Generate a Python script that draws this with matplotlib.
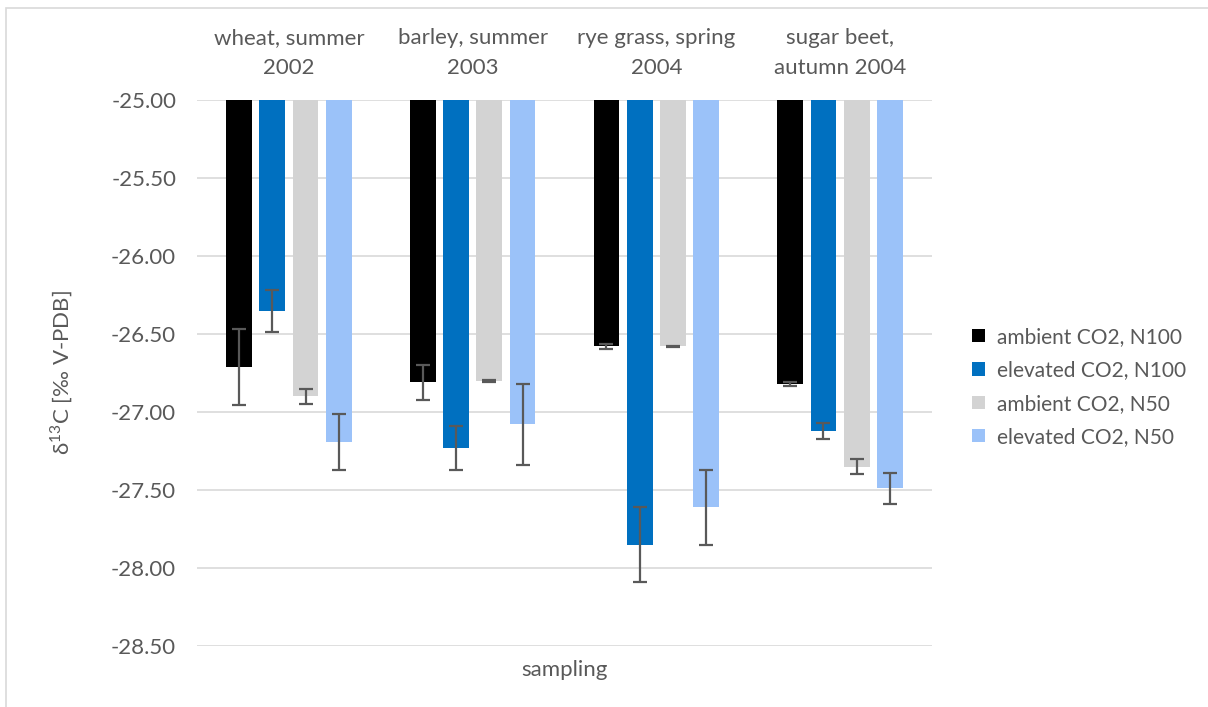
import matplotlib
matplotlib.use("Agg")
import matplotlib.pyplot as plt
import matplotlib.patches as patches
import numpy as np

plt.rcParams["font.family"] = ["Lato", "DejaVu Sans"]

# sampling campaigns and treatments
samplings = ["wheat, summer\n2002", "barley, summer\n2003",
             "rye grass, spring\n2004", "sugar beet,\nautumn 2004"]
treatments = ["ambient CO2, N100", "elevated CO2, N100",
              "ambient CO2, N50", "elevated CO2, N50"]

# mean delta 13C per treatment, one value per sampling
amb_n100 = [-26.71, -26.81, -26.58, -26.82]
elev_n100 = [-26.355, -27.23, -27.85, -27.12]
amb_n50 = [-26.90, -26.80, -26.58, -27.35]
elev_n50 = [-27.19, -27.08, -27.61, -27.49]

# standard errors
amb_n100_err = [0.245, 0.113, 0.018, 0.013]
elev_n100_err = [0.135, 0.143, 0.24, 0.05]
amb_n50_err = [0.048, 0.005, 0.005, 0.05]
elev_n50_err = [0.18, 0.257, 0.24, 0.10]

colors = ["#000000", "#0070C0", "#D3D3D3", "#9BC2F9"]
text_col = "#595959"
baseline = -25.0
fs = 16

fig = plt.figure(figsize=(12.08, 7.07), dpi=100)
ax = fig.add_axes([197 / 1208, 1 - 646 / 707, 735 / 1208, 546 / 707])

series = [amb_n100, elev_n100, amb_n50, elev_n50]
errors = [amb_n100_err, elev_n100_err, amb_n50_err, elev_n50_err]
x = np.arange(len(samplings))
step = 0.181
width = 0.139
handles = []
for k, (vals, errs) in enumerate(zip(series, errors)):
    vals = np.array(vals)
    pos = x + (k - 1.5) * step
    b = ax.bar(pos, vals - baseline, bottom=baseline, width=width,
               color=colors[k], label=treatments[k], zorder=2)
    ax.errorbar(pos, vals, yerr=errs, fmt="none", ecolor=text_col,
                elinewidth=1.6, capsize=5, capthick=1.6, zorder=3)
    handles.append(b)

ax.set_xlim(-0.5, 3.5)
ax.set_ylim(-28.5, -25.0)
ax.set_yticks(np.arange(-28.5, -24.99, 0.5))
ax.yaxis.set_major_formatter(matplotlib.ticker.FormatStrFormatter("%.2f"))
ax.grid(axis="y", color="#D9D9D9", linewidth=1.2, zorder=0)
ax.set_axisbelow(True)
for s in ax.spines.values():
    s.set_visible(False)

ax.xaxis.tick_top()
ax.set_xticks(x)
ax.set_xticklabels(samplings, fontsize=fs, color=text_col, linespacing=1.6)
ax.tick_params(axis="both", length=0, labelsize=fs, labelcolor=text_col)
ax.tick_params(axis="y", pad=15)
ax.tick_params(axis="x", pad=16)

ax.set_ylabel("δ$^{\\mathregular{13}}$C [‰ V-PDB]", fontsize=fs,
              color=text_col, labelpad=26)
fig.text(564.5 / 1208, 1 - 670 / 707, "sampling", fontsize=fs,
         color=text_col, ha="center", va="center")

fig.legend(handles=handles, loc="center left",
           bbox_to_anchor=(953 / 1208, 1 - 387 / 707), frameon=False,
           fontsize=15, labelcolor=text_col, handlelength=0.62,
           handleheight=0.62, handletextpad=0.6, labelspacing=0.64)

# light chart border
fig.patches.append(patches.Rectangle((6 / 1208, -0.05), 1.2, 1 - 8 / 707 + 0.05,
                                     transform=fig.transFigure, fill=False,
                                     edgecolor="#D9D9D9", linewidth=1.2))

fig.savefig("out.png", dpi=100)
